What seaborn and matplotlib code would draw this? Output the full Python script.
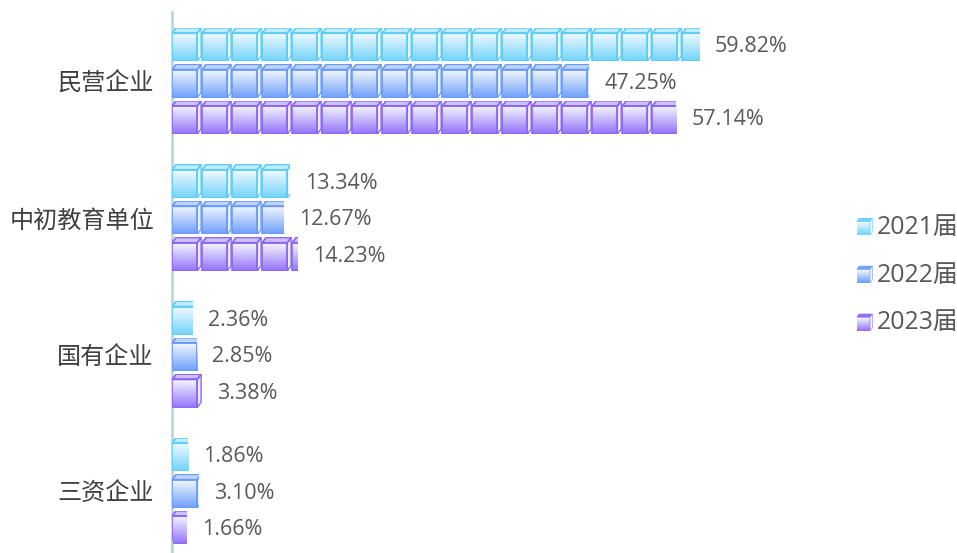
import numpy as np
import pandas as pd
import matplotlib
matplotlib.use("Agg")
import matplotlib.pyplot as plt
import seaborn as sns
from matplotlib.colors import LinearSegmentedColormap, to_rgb
from matplotlib.patches import Polygon, Patch, Rectangle
from matplotlib.legend_handler import HandlerBase

categories = ["民营企业", "中初教育单位", "国有企业", "三资企业"]
years = ["2021届", "2022届", "2023届"]
v2021 = [59.82, 13.34, 2.36, 1.86]
v2022 = [47.25, 12.67, 2.85, 3.10]
v2023 = [57.14, 14.23, 3.38, 1.66]
labels2021 = ["59.82%", "13.34%", "2.36%", "1.86%"]
labels2022 = ["47.25%", "12.67%", "2.85%", "3.10%"]
labels2023 = ["57.14%", "14.23%", "3.38%", "1.66%"]
edge_colors = ["#5ccdf8", "#6a9bfb", "#8b66f8"]
fill_colors = ["#72d4fb", "#6f9ffa", "#9472fa"]
TILE = 3.4  # one cube, in axis units

sns.set_theme(style="white")
plt.rcParams["font.family"] = ["Open Sans", "Noto Sans CJK SC", "DejaVu Sans"]

df = pd.DataFrame({
    "cat": categories * 3,
    "year": [y for y in years for _ in categories],
    "value": v2021 + v2022 + v2023,
})

fig = plt.figure(figsize=(9.57, 5.53), dpi=100)
ax = fig.add_axes([172 / 957, 0, 785 / 957, 541 / 553])
sns.barplot(data=df, y="cat", x="value", hue="year", hue_order=years, order=categories,
            orient="h", gap=0.08, palette=fill_colors, legend=False, ax=ax, errorbar=None)


def gradient(col):
    return LinearSegmentedColormap.from_list("g", [(0.0, "#f6faff"), (1.0, col)])


def draw_cube(ax, x, y, w, h, edge, fill, clip, z=3):
    """x,y = left/top of the cube cell, y grows downward."""
    fx, sx = x + w * 0.84, x + w * 0.97
    ty = y + h * 0.16
    by = y + h
    im = ax.imshow(np.linspace(0, 1, 64).reshape(-1, 1), cmap=gradient(fill), aspect="auto",
                   extent=(x, fx, by, ty), zorder=z, interpolation="bilinear")
    arts = [im]
    tint = np.array(to_rgb(fill))
    side = tint * 0.15 + 0.85
    arts.append(ax.add_patch(Polygon([(fx, ty), (sx, y), (sx, by - h * 0.16), (fx, by)],
                                     closed=True, fc=side, ec=edge, lw=1.0, zorder=z)))
    arts.append(ax.add_patch(Polygon([(x, ty), (x + w * 0.14, y), (sx, y), (fx, ty)],
                                     closed=True, fc=tint * 0.45 + 0.55, ec=edge, lw=1.3, zorder=z)))
    arts.append(ax.add_patch(Rectangle((x, ty), fx - x, by - ty, fc="none", ec=edge, lw=1.2, zorder=z)))
    for a in arts:
        a.set_clip_path(clip)


label_sets = [labels2021, labels2022, labels2023]
for c_idx, container in enumerate(ax.containers):
    edge, fill = edge_colors[c_idx], fill_colors[c_idx]
    for b_idx, bar in enumerate(container):
        x0, y0, w, h = bar.get_x(), bar.get_y(), bar.get_width(), bar.get_height()
        bar.set_facecolor("none")
        bar.set_edgecolor("none")
        top, hgt = min(y0, y0 + h), abs(h)
        for i in range(int(np.ceil(w / TILE))):
            draw_cube(ax, x0 + i * TILE, top, TILE, hgt, edge, fill, bar)
        ax.annotate(label_sets[c_idx][b_idx], (x0 + w + 1.7, top + hgt / 2), xytext=(0, -1.6),
                    textcoords="offset points", va="center", ha="left",
                    fontsize=15.5, color="#595959")

ax.set_xlim(0, 785 / 528 * 59.82)
ax.set_ylim(3.453, -0.505)
ax.set_xlabel("")
ax.set_ylabel("")
ax.xaxis.set_visible(False)
ax.tick_params(axis="y", length=0, pad=13)
for lab in ax.get_yticklabels():
    lab.set_fontsize(17.4)
    lab.set_color("#404040")
    lab.set_fontfamily(["Noto Sans CJK SC", "DejaVu Sans"])
for s in ["top", "right", "bottom"]:
    ax.spines[s].set_visible(False)
ax.spines["left"].set_color("#b4d4dc")
ax.spines["left"].set_linewidth(1.8)
fig.patches.append(plt.Rectangle((171 / 957, 0), 1.8 / 957, 12 / 553, transform=fig.transFigure,
                                 fc="#b4d4dc", ec="none"))
ax.set_ylim(3.453, -0.505)


class CubeHandler(HandlerBase):
    def create_artists(self, legend, orig, xd, yd, width, height, fontsize, trans):
        fill, edge = orig.get_facecolor(), orig.get_edgecolor()
        arts = []
        x0, y0 = -xd, -yd - 1
        w, h = 11.0, 12.0
        n = 14
        start, end = np.array([0.96, 0.98, 1.0]), np.array(fill[:3])
        for i in range(n):
            t = i / (n - 1)
            arts.append(Rectangle((x0, y0 + h * 0.82 * (1 - (i + 1) / n)), w * 0.85, h * 0.82 / n,
                                  fc=tuple(start * (1 - t) + end * t), ec="none", transform=trans))
        arts.append(Polygon([(x0, y0 + h * 0.82), (x0 + w * 0.15, y0 + h), (x0 + w, y0 + h),
                             (x0 + w * 0.85, y0 + h * 0.82)], closed=True, fc=tuple(end), ec=edge,
                            lw=0.6, transform=trans))
        arts.append(Polygon([(x0 + w * 0.85, y0), (x0 + w * 0.85, y0 + h * 0.82), (x0 + w, y0 + h),
                             (x0 + w, y0 + h * 0.18)], closed=True, fc="#eef3ff", ec=edge,
                            lw=0.4, transform=trans))
        return arts


handles = [Patch(facecolor=f, edgecolor=e) for f, e in zip(fill_colors, edge_colors)]
leg = ax.legend(handles, years, handler_map={Patch: CubeHandler()}, frameon=False,
                loc="center left", bbox_to_anchor=(857 / 957, 1 - 275 / 553),
                bbox_transform=fig.transFigure, fontsize=17.9, labelcolor="#595959",
                labelspacing=0.92, handlelength=0.62, handletextpad=0.18, borderpad=0, borderaxespad=0)

fig.savefig("out.png", dpi=100, facecolor="white")
